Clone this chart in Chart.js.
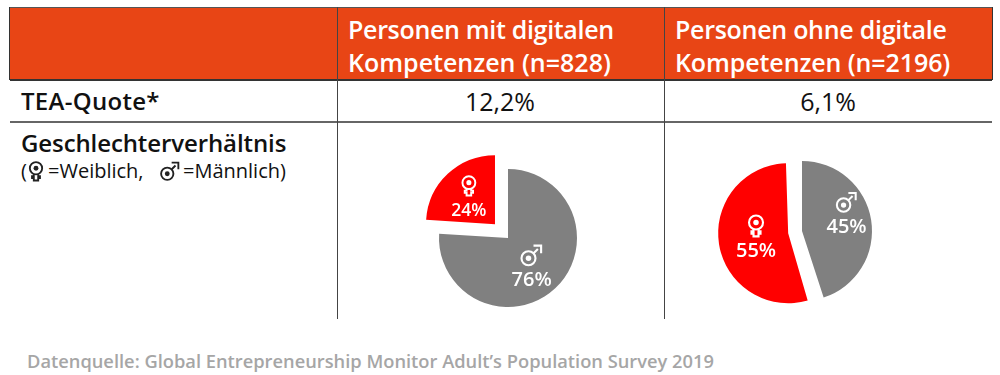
<!DOCTYPE html>
<html lang="de">
<head>
<meta charset="utf-8">
<title>Geschlechterverhältnis</title>
<script src="https://cdn.jsdelivr.net/npm/chart.js@4"></script>
<style>
html, body { margin: 0; background: #fff; }
body { width: 1000px; height: 375px; position: relative; overflow: hidden; font-family: "Open Sans", sans-serif; color: #111; }
.abs { position: absolute; white-space: nowrap; }
.line { position: absolute; background: #555; }
.head { color: #fff; font-weight: 600; font-size: 25px; line-height: 33px; }
.rowh { font-weight: 600; font-size: 24px; line-height: 34px; }
.val { font-size: 25px; line-height: 34px; transform: translateX(-50%); }
.leg { font-size: 20px; line-height: 24px; }
.src { color: #a6a6a6; font-weight: 600; font-size: 18.3px; line-height: 24px; }
canvas { position: absolute; }
</style>
</head>
<body>
<div class="abs" style="left:10px;top:7px;width:982px;height:72px;background:#e84515"></div>
<div class="line" style="left:10px;top:7px;width:982px;height:1px"></div>
<div class="line" style="left:10px;top:79px;width:982px;height:2px;background:#333"></div>
<div class="line" style="left:10px;top:121px;width:982px;height:2px;background:#666"></div>
<div class="line" style="left:9px;top:7px;width:1px;height:73px;background:#333"></div>
<div class="line" style="left:992px;top:7px;width:1px;height:73px;background:#333"></div>
<div class="line" style="left:337px;top:7px;width:1px;height:312px;background:#444"></div>
<div class="line" style="left:664px;top:7px;width:1px;height:312px;background:#444"></div>

<div class="abs head" style="left:348px;top:13px"><span style="letter-spacing:-0.32px">Personen mit digitalen</span><br>Kompetenzen (n=828)</div>
<div class="abs head" style="left:675px;top:13px"><span style="letter-spacing:-0.28px">Personen ohne digitale</span><br><span style="letter-spacing:-0.1px">Kompetenzen (n=2196)</span></div>
<div class="abs rowh" style="left:21px;top:84px;letter-spacing:0.3px">TEA-Quote*</div>
<div class="abs val" style="left:500px;top:84px">12,2%</div>
<div class="abs val" style="left:828px;top:84px">6,1%</div>
<div class="abs rowh" style="left:21px;top:126px;letter-spacing:-0.1px">Geschlechterverhältnis</div>
<div class="abs leg" style="left:21px;top:159px">(</div>
<div class="abs leg" style="left:48px;top:159px">=Weiblich,</div>
<div class="abs leg" style="left:183px;top:159px">=Männlich)</div>
<canvas id="legF" width="26" height="28" style="left:23px;top:157px"></canvas>
<canvas id="legM" width="26" height="28" style="left:157px;top:157px"></canvas>
<div class="abs src" style="left:27px;top:349px">Datenquelle: Global Entrepreneurship Monitor Adult’s Population Survey 2019</div>

<canvas id="pieMit" style="left:401px;top:131px"></canvas>
<canvas id="pieOhne" style="left:704px;top:133px"></canvas>

<script>
const geschlechter = ['Männlich', 'Weiblich'];
const mitDigital = [76, 24];
const ohneDigital = [45, 55];
const farben = ['#808080', '#ff0000'];

// Symbol Weiblich: Ring mit Kreuz darunter
function symbolWeiblich(ctx, x, y, s, farbe) {
    ctx.save();
    ctx.translate(x, y);
    ctx.scale(s, s);
    ctx.strokeStyle = farbe;
    ctx.fillStyle = farbe;
    ctx.lineWidth = 1.7;
    ctx.beginPath();
    ctx.arc(0, -2.5, 5.6, 0, Math.PI * 2);
    ctx.stroke();
    ctx.beginPath();
    ctx.arc(0, -2.5, 2.2, 0, Math.PI * 2);
    ctx.fill();
    ctx.beginPath();
    ctx.moveTo(-2, 3);
    ctx.lineTo(-2, 4.6);
    ctx.lineTo(-3.6, 4.6);
    ctx.lineTo(-3.6, 6.4);
    ctx.lineTo(-2, 6.4);
    ctx.lineTo(-2, 8.6);
    ctx.lineTo(2, 8.6);
    ctx.lineTo(2, 6.4);
    ctx.lineTo(3.6, 6.4);
    ctx.lineTo(3.6, 4.6);
    ctx.lineTo(2, 4.6);
    ctx.lineTo(2, 3);
    ctx.stroke();
    ctx.restore();
}

// Symbol Männlich: Ring mit Pfeil nach rechts oben
function symbolMaennlich(ctx, x, y, s, farbe) {
    ctx.save();
    ctx.translate(x, y);
    ctx.scale(s, s);
    ctx.strokeStyle = farbe;
    ctx.fillStyle = farbe;
    ctx.lineWidth = 1.7;
    ctx.beginPath();
    ctx.arc(-2.5, 2.5, 5.6, 0, Math.PI * 2);
    ctx.stroke();
    ctx.beginPath();
    ctx.arc(-2.5, 2.5, 2.2, 0, Math.PI * 2);
    ctx.fill();
    ctx.beginPath();
    ctx.moveTo(1.6, -1.6);
    ctx.lineTo(5, -5);
    ctx.moveTo(1.5, -7.6);
    ctx.lineTo(7.6, -7.6);
    ctx.lineTo(7.6, -1.5);
    ctx.stroke();
    ctx.restore();
}

// Chart.js vergroessert Stuecke ueber 180 Grad um den Versatz, das hier zuruecknehmen
const radiusFix = {
    id: 'radiusFix',
    afterDatasetsUpdate(chart) {
        chart.getDatasetMeta(0).data.forEach(arc => {
            const versatz = (arc.options.offset || 0) / 4;
            const fix = 1 - Math.sin(Math.min(Math.PI, arc.circumference));
            arc.outerRadius -= versatz * fix;
        });
    }
};

const beschriftung = {
    id: 'beschriftung',
    afterDatasetsDraw(chart, args, opts) {
        const ctx = chart.ctx;
        chart.getDatasetMeta(0).data.forEach((arc, i) => {
            const mitte = (arc.startAngle + arc.endAngle) / 2;
            const abstand = arc.outerRadius / 2 + (arc.options.offset || 0) / 4;
            const x = arc.x + Math.cos(mitte) * abstand + opts.schub[i][0];
            const y = arc.y + Math.sin(mitte) * abstand + opts.schub[i][1];
            let textY;
            if (i === 0) {
                symbolMaennlich(ctx, x, y - 12, opts.symbol[i], '#fff');
                textY = y + 13;
            } else {
                symbolWeiblich(ctx, x, y - 14, opts.symbol[i], '#fff');
                textY = y + 12;
            }
            ctx.fillStyle = '#fff';
            ctx.font = '600 ' + opts.schrift[i] + 'px "Open Sans"';
            ctx.textAlign = 'center';
            ctx.textBaseline = 'middle';
            ctx.fillText(chart.data.datasets[0].data[i] + '%', x, textY);
        });
    }
};

function kreis(id, werte, groesse, versatz, schub, schrift, symbol) {
    const el = document.getElementById(id);
    el.width = groesse;
    el.height = groesse;
    return new Chart(el, {
        type: 'pie',
        data: {
            labels: geschlechter,
            datasets: [{
                data: werte,
                backgroundColor: farben,
                borderWidth: 0,
                offset: [0, versatz]
            }]
        },
        options: {
            responsive: false,
            animation: false,
            plugins: {
                legend: { display: false },
                tooltip: { enabled: false },
                beschriftung: { schub: schub, schrift: schrift, symbol: symbol }
            }
        },
        plugins: [radiusFix, beschriftung]
    });
}

kreis('pieMit', mitDigital, 214, 76, [[0, 4], [-2.5, 0.5]], [20, 17.5], [1.25, 1.15]);
kreis('pieOhne', ohneDigital, 196, 56, [[10, -11.5], [-4.5, 2]], [20, 20], [1.2, 1.25]);

symbolWeiblich(document.getElementById('legF').getContext('2d'), 13, 14, 1.1, '#222');
symbolMaennlich(document.getElementById('legM').getContext('2d'), 13, 14, 1.1, '#222');
</script>
</body>
</html>
